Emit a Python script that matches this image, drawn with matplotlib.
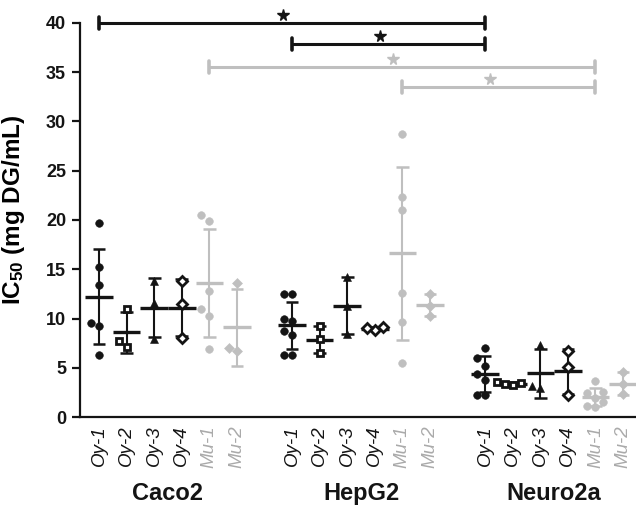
import numpy as np
import matplotlib
matplotlib.use('Agg')
import matplotlib.pyplot as plt

plt.rcParams['font.family'] = ['Liberation Sans', 'DejaVu Sans']
plt.rcParams['mathtext.fontset'] = 'custom'
plt.rcParams['mathtext.rm'] = 'Liberation Sans:bold'
plt.rcParams['mathtext.it'] = 'Liberation Sans:bold:italic'
plt.rcParams['mathtext.bf'] = 'Liberation Sans:bold'

# ---------------- data ----------------
cell_lines = ['Caco2', 'HepG2', 'Neuro2a']
extracts = ['Oy-1', 'Oy-2', 'Oy-3', 'Oy-4', 'Mu-1', 'Mu-2']

caco2 = [
    [19.7, 15.2, 13.4, 9.5, 9.2, 6.3],
    [11.0, 7.1, 7.7],
    [13.8, 11.6, 7.9],
    [13.8, 11.5, 8.0],
    [20.5, 19.9, 12.8, 11.0, 10.3, 6.9],
    [13.6, 6.7, 7.0],
]
hepg2 = [
    [12.5, 12.5, 10.0, 9.7, 8.75, 8.3, 6.3, 6.3],
    [9.2, 7.9, 6.5],
    [14.2, 11.3, 8.4],
    [9.1, 8.8, 9.0],
    [28.7, 22.3, 21.0, 12.6, 9.6, 5.5],
    [12.5, 11.3, 10.3],
]
neuro2a = [
    [7.0, 5.95, 5.2, 4.4, 3.75, 2.2, 2.2],
    [3.6, 3.2, 3.3, 3.5],
    [7.3, 3.1, 2.9],
    [6.7, 5.1, 2.2],
    [3.7, 2.5, 2.4, 1.9, 1.5, 1.1, 1.0],
    [4.6, 3.3, 2.3],
]
all_groups = [caco2, hepg2, neuro2a]

# significance comparisons: (cell line index, extract index) pairs
sig_from = [(0, 0), (1, 0), (0, 4), (1, 4)]
sig_to = [(2, 0), (2, 0), (2, 4), (2, 4)]
sig_level = [40.0, 37.9, 35.5, 33.5]

# ---------------- styles ----------------
BLACK = '#141414'
GRAY = '#bfbfbf'
LABEL_GRAY = '#aaaaaa'
ext_color = [BLACK, BLACK, BLACK, BLACK, GRAY, GRAY]
ext_marker = ['o', 's', '^', 'D', 'o', 'D']
ext_face = [BLACK, 'white', BLACK, 'white', GRAY, GRAY]
ext_ms = [5.5, 4.8, 6.0, 4.6, 5.5, 5.0]

group_gap = 7

def xpos(g, e):
    return g * group_gap + e

fig = plt.figure(figsize=(6.36, 5.05), dpi=100)
ax = fig.add_axes([80 / 636, 88 / 505, 556 / 636, 394 / 505])
ax.set_xlim(-0.69, 19.47)
ax.set_ylim(0, 40)

# pixel scale for swarm layout
p0 = ax.transData.transform((0, 0))
p1 = ax.transData.transform((1, 1))
px_x = p1[0] - p0[0]
px_y = p1[1] - p0[1]
D = 8.0  # marker spacing in pixels

def swarm(vals):
    order = np.argsort(vals, kind='stable')
    placed = []
    offs = np.zeros(len(vals))
    for i in order:
        y = vals[i] * px_y
        for k in [0, -1, 1, -2, 2, -3, 3]:
            ox = k * D
            if all(np.hypot(ox - qx, y - qy) >= D for qx, qy in placed):
                placed.append((ox, y))
                offs[i] = ox / px_x
                break
    return offs

for g, grp in enumerate(all_groups):
    for e, vals in enumerate(grp):
        vals = np.array(vals)
        x = xpos(g, e)
        m = vals.mean()
        s = vals.std(ddof=1)
        c = ext_color[e]
        ax.vlines(x, m - s, m + s, color=c, lw=1.5, zorder=2)
        ax.hlines([m - s, m + s], x - 0.23, x + 0.23, color=c, lw=1.8, zorder=2)
        ax.hlines(m, x - 0.5, x + 0.5, color=c, lw=2.4, zorder=2)
        offs = swarm(vals)
        open_m = ext_face[e] == 'white'
        ax.plot(x + offs, vals, ls='none', marker=ext_marker[e], ms=ext_ms[e],
                mfc=ext_face[e], mec=c, mew=2.0 if open_m else 0.4,
                zorder=3, clip_on=False)

# significance bars
for (ga, ea), (gb, eb), lvl in zip(sig_from, sig_to, sig_level):
    xa = xpos(ga, ea)
    xb = xpos(gb, eb)
    c = ext_color[ea]
    ax.plot([xa, xb], [lvl, lvl], color=c, lw=2.2, clip_on=False, zorder=4,
            solid_capstyle='butt')
    for xx in (xa, xb):
        ax.plot([xx, xx], [lvl - 0.6, lvl + 0.6], color=c, lw=2.6,
                clip_on=False, zorder=4, solid_capstyle='round')
    ax.plot((xa + xb) / 2 - 0.33, lvl + 0.8, marker='*', ms=8.5, color=c,
            mec=c, clip_on=False, zorder=4)

# axes styling
for side in ['top', 'right']:
    ax.spines[side].set_visible(False)
ax.spines['left'].set_linewidth(1.6)
ax.spines['bottom'].set_linewidth(1.6)
ax.spines['left'].set_color(BLACK)
ax.spines['bottom'].set_color(BLACK)

ax.set_yticks(np.arange(0, 41, 5))
ax.tick_params(axis='y', length=6, width=1.6, pad=4, labelsize=13,
               colors=BLACK)
for lab in ax.get_yticklabels():
    lab.set_fontweight('bold')

xt = [xpos(g, e) for g in range(len(cell_lines)) for e in range(len(extracts))]
xl = [e for g in range(len(cell_lines)) for e in extracts]
ax.set_xticks(xt)
ax.set_xticklabels(xl, rotation=90, fontstyle='italic', fontsize=13.5)
ax.tick_params(axis='x', length=0, pad=6)
for i, lab in enumerate(ax.get_xticklabels()):
    lab.set_color(BLACK if xl[i].startswith('Oy') else LABEL_GRAY)

ax.set_ylabel('IC$_{50}$ (mg DG/mL)', fontsize=17.5, fontweight='bold')
ax.yaxis.set_label_coords(-0.095, 0.525)

for g, name in enumerate(cell_lines):
    xc = (xpos(g, 0) + xpos(g, len(extracts) - 1)) / 2
    ax.text(xc, -0.195, name, transform=ax.get_xaxis_transform(),
            ha='center', va='center', fontsize=17, fontweight='bold',
            color=BLACK)

fig.savefig('out.png', dpi=100)
